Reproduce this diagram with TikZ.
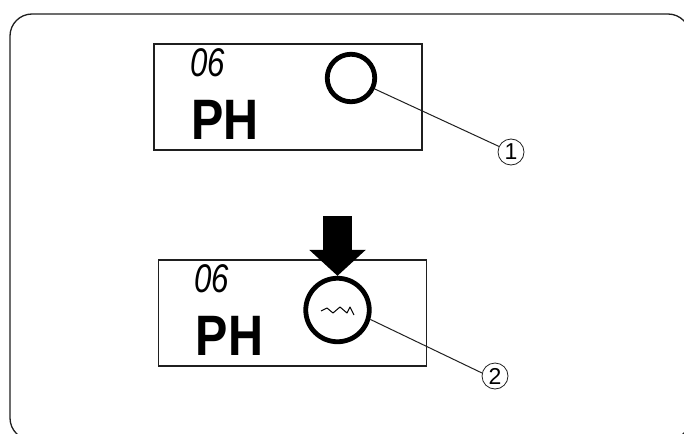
\documentclass[tikz,border=0pt]{standalone}
\usepackage{fontspec}
\setmainfont{Liberation Sans}
\newfontfamily\phfont[FakeStretch=0.85]{Liberation Sans}
\newfontfamily\segfont[FakeStretch=0.78]{Liberation Sans}
\usetikzlibrary{positioning, arrows.meta}
\definecolor{inkline}{gray}{0.12}
\tikzset{
  lcdbox/.style   = {draw=inkline, line width=1.3pt, minimum width=268pt,
                     minimum height=106pt, inner sep=0pt, fill=white},
  lcdname/.style  = {inner sep=0pt, font=\phfont\fontsize{57}{57}\selectfont\bfseries},
  lcdnum/.style   = {inner sep=0pt, font=\segfont\fontsize{40}{40}\selectfont\itshape},
  dial/.style     = {draw=black, circle, line width=4.8pt, inner sep=0pt},
  callout/.style  = {draw=inkline, circle, line width=0.8pt, minimum size=26pt,
                     inner sep=0pt, font=\fontsize{23}{23}\selectfont},
  leader/.style   = {draw=inkline, line width=1pt},
  pressarrow/.style = {line width=29pt, -{Triangle[length=26pt,width=55pt]}}
}
\begin{document}
\begin{tikzpicture}[x=1pt, y=-1pt]
  \useasboundingbox (0,0) rectangle (684,433);
  \clip (0,0) rectangle (684,433);
  \draw[inkline, line width=1.3pt, rounded corners=22pt] (10,14) rectangle (690,440);

  % upper display
  \node[lcdbox] (lcdA) at (288,97) {};
  \node[lcdnum]  (numA)  at ([shift={(-80.5,-34.5)}]lcdA.center) {06};
  \node[lcdname] (nameA) at ([shift={(-63,23)}]lcdA.center) {PH};
  \node[dial, minimum size=47.5pt] (dialA) at ([shift={(63,-19)}]lcdA.center) {};
  \node[callout] (tagA) at (511,152) {1};
  \draw[leader] (dialA) -- (tagA);

  % lower display
  \node[lcdbox] (lcdB) at (292.5,313) {};
  \node[lcdnum]  (numB)  at ([shift={(-80.5,-34.5)}]lcdB.center) {06};
  \node[lcdname] (nameB) at ([shift={(-63,23)}]lcdB.center) {PH};
  \node[dial, minimum size=63.5pt] (dialB) at (337.5,310) {};
  \node[callout] (tagB) at (495,376) {2};
  \draw[leader] (dialB.-16) -- (tagB.167);
  \draw[line width=1pt, line join=round] (321,311) -- (327,308) -- (333,313)
    -- (340,307) -- (347,313) -- (350,307) -- (354,315);

  \coordinate (pressTop) at (337.5,216);
  \draw[pressarrow] (pressTop) -- (dialB.north);
\end{tikzpicture}
\end{document}
